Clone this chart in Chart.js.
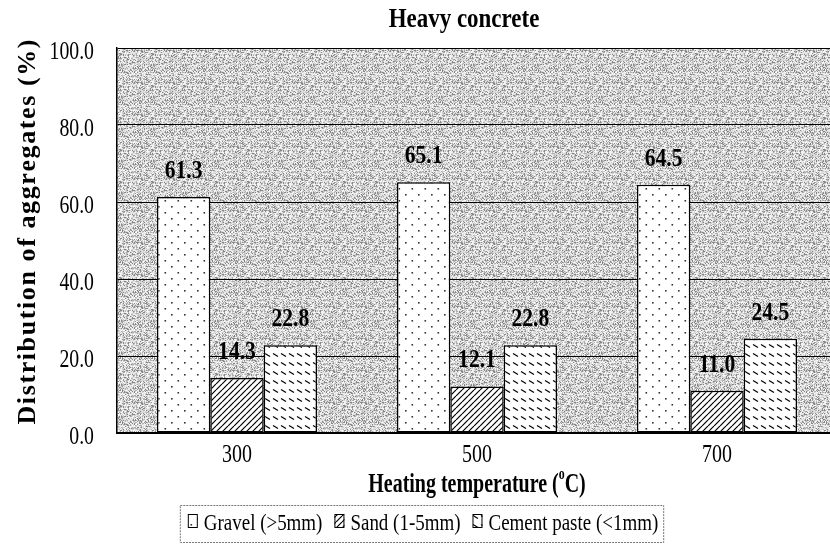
<!DOCTYPE html>
<html>
<head>
<meta charset="utf-8">
<script src="https://cdn.jsdelivr.net/npm/chart.js@4"></script>
<style>
    html, body { margin: 0; padding: 0; background: #fff; overflow: hidden; }
    #wrap { width: 837px; height: 547px; position: relative; }
</style>
</head>
<body>
<div id="wrap"><canvas id="chart"></canvas></div>
<script>
const categories = ['300', '500', '700'];
const seriesNames = ['Gravel (>5mm)', 'Sand (1-5mm)', 'Cement paste (<1mm)'];
const gravel = [61.3, 65.1, 64.5];
const sand = [14.3, 12.1, 11.0];
const cement = [22.8, 22.8, 24.5];
const yTicks = [0, 20, 40, 60, 80, 100];
const chartTitle = 'Heavy concrete';
const yTitle = 'Distribution of aggregates (%)';

const SERIF = "'Liberation Serif', 'Times New Roman', serif";

document.addEventListener('DOMContentLoaded', function() {
    const canvas = document.getElementById('chart');
    const ctx = canvas.getContext('2d');

    // small tile helpers for the hatch fills
    function tile(w, h, bg, draw) {
        const c = document.createElement('canvas');
        c.width = w; c.height = h;
        const g = c.getContext('2d');
        if (bg) { g.fillStyle = bg; g.fillRect(0, 0, w, h); }
        draw(g, w, h);
        return ctx.createPattern(c, 'repeat');
    }

    const gravelFill = tile(13, 12, '#fff', g => {
        g.fillStyle = '#333';
        g.fillRect(2, 2, 1.6, 1.6);
        g.fillRect(8.5, 8, 1.6, 1.6);
    });
    const sandFill = tile(6, 6, '#fff', (g, w, h) => {
        g.strokeStyle = '#000';
        g.lineWidth = 1.2;
        [-w, 0, w].forEach(k => {
            g.beginPath(); g.moveTo(k, h); g.lineTo(k + w, 0); g.stroke();
        });
    });
    const cementFill = tile(8, 9, '#fff', g => {
        g.strokeStyle = '#000';
        g.lineWidth = 1.2;
        g.beginPath(); g.moveTo(1, 2.5); g.lineTo(6, 5.5); g.stroke();
    });

    // grey stipple behind the plot (fixed hash, just a texture)
    const stipple = (function() {
        const c = document.createElement('canvas');
        c.width = 32; c.height = 32;
        const g = c.getContext('2d');
        const img = g.createImageData(32, 32);
        const shades = [250, 228, 205, 175, 135, 238, 215];
        for (let y = 0; y < 32; y++) {
            for (let x = 0; x < 32; x++) {
                const h = (Math.imul(x + 7, 73856093) ^ Math.imul(y + 3, 19349663)) >>> 0;
                const v = shades[(h >>> 5) % shades.length];
                const i = (y * 32 + x) * 4;
                img.data[i] = img.data[i + 1] = img.data[i + 2] = v;
                img.data[i + 3] = 255;
            }
        }
        g.putImageData(img, 0, 0);
        return ctx.createPattern(c, 'repeat');
    })();

    const fills = [gravelFill, sandFill, cementFill];
    const seriesData = [gravel, sand, cement];

    function squeezed(text, x, y, font, sx, align, baseline) {
        ctx.save();
        ctx.font = font;
        ctx.textAlign = align || 'center';
        ctx.textBaseline = baseline || 'alphabetic';
        ctx.fillStyle = '#000';
        ctx.translate(x, y);
        ctx.scale(sx, 1);
        ctx.fillText(text, 0, 0);
        ctx.restore();
    }

    const decor = {
        id: 'decor',
        beforeDraw(chart) {
            const c = chart.ctx, a = chart.chartArea;
            c.save();
            c.fillStyle = '#fff';
            c.fillRect(0, 0, chart.width, chart.height);
            c.fillStyle = stipple;
            c.fillRect(a.left, a.top, a.right - a.left, a.bottom - a.top);
            c.restore();
        },
        afterDatasetsDraw(chart) {
            // value labels above the bars
            chart.data.datasets.forEach((ds, i) => {
                chart.getDatasetMeta(i).data.forEach((bar, j) => {
                    squeezed(ds.data[j].toFixed(1), bar.x, bar.y - 19,
                        'bold 26px ' + SERIF, 0.83);
                });
            });
        },
        afterDraw(chart) {
            const c = chart.ctx;
            const xs = chart.scales.x, ys = chart.scales.y;

            // y tick labels
            ys.ticks.forEach(t => {
                squeezed(t.value.toFixed(1), 94, ys.getPixelForValue(t.value) + 4,
                    '26px ' + SERIF, 0.76, 'right', 'middle');
            });
            // x tick labels
            categories.forEach((lab, i) => {
                squeezed(lab, xs.getPixelForTick(i), 462, '25px ' + SERIF, 0.8);
            });

            // title
            squeezed(chartTitle, 464, 27, 'bold 28px ' + SERIF, 0.82);

            // x title with superscript o
            const sx = 0.74;
            const big = 'bold 27px ' + SERIF, small = 'bold 16px ' + SERIF;
            c.save();
            c.font = big;
            const w1 = c.measureText('Heating temperature (').width * sx;
            const w3 = c.measureText('C)').width * sx;
            c.font = small;
            const w2 = c.measureText('o').width * sx;
            c.restore();
            let x0 = 477 - (w1 + w2 + w3) / 2;
            squeezed('Heating temperature (', x0, 492, big, sx, 'left');
            squeezed('o', x0 + w1, 479, small, sx, 'left');
            squeezed('C)', x0 + w1 + w2, 492, big, sx, 'left');

            // y title, letter spaced, rotated
            c.save();
            c.font = 'bold 26px ' + SERIF;
            c.fillStyle = '#000';
            const chars = yTitle.split('');
            const widths = chars.map(ch => c.measureText(ch).width);
            const sum = widths.reduce((p, q) => p + q, 0);
            const gap = (385 - sum) / (chars.length - 1);
            c.translate(35, 232);
            c.rotate(-Math.PI / 2);
            c.textBaseline = 'alphabetic';
            c.textAlign = 'left';
            let p = -385 / 2;
            chars.forEach((ch, i) => { c.fillText(ch, p, 0); p += widths[i] + gap; });
            c.restore();

            // legend
            const lf = '24px ' + SERIF, lsx = 0.79;
            c.save();
            c.font = lf;
            const items = seriesNames.map(n => c.measureText(n).width * lsx);
            c.restore();
            const box = 10, pad = 6, between = 12;
            const total = items.reduce((p, q) => p + q + box + pad, 0) + between * (items.length - 1);
            let lx = 423 - total / 2;
            c.save();
            c.strokeStyle = '#777';
            c.lineWidth = 1;
            c.setLineDash([2, 1]);
            c.strokeRect(lx - 7.5, 505.5, total + 13, 37);
            c.restore();
            seriesNames.forEach((n, i) => {
                c.save();
                c.fillStyle = fills[i];
                c.fillRect(lx, 514, box, 13);
                c.strokeStyle = '#000';
                c.lineWidth = 1;
                c.strokeRect(lx + 0.5, 514.5, box - 1, 13);
                c.restore();
                squeezed(n, lx + box + pad, 530, lf, lsx, 'left');
                lx += box + pad + items[i] + between;
            });
        }
    };

    new Chart(canvas, {
        type: 'bar',
        data: {
            labels: categories,
            datasets: seriesNames.map((name, i) => ({
                label: name,
                data: seriesData[i],
                backgroundColor: fills[i],
                borderColor: '#000',
                borderWidth: 1.5,
                borderSkipped: false,
                categoryPercentage: 0.667,
                barPercentage: 1.0
            }))
        },
        options: {
            responsive: true,
            maintainAspectRatio: false,
            animation: false,
            layout: { padding: { top: 48, left: 0, right: 0, bottom: 0 } },
            plugins: {
                legend: { display: false },
                title: { display: false },
                tooltip: { enabled: false }
            },
            scales: {
                x: {
                    grid: { display: false },
                    border: { display: true, color: '#000', width: 2 },
                    ticks: { display: false },
                    afterFit: s => { s.height = 114; }
                },
                y: {
                    min: 0,
                    max: 100,
                    afterBuildTicks: s => { s.ticks = yTicks.map(v => ({ value: v })); },
                    ticks: { display: false },
                    grid: { color: '#000', lineWidth: 1, drawTicks: false },
                    border: { display: true, color: '#000', width: 1.5 },
                    afterFit: s => { s.width = 117; }
                }
            }
        },
        plugins: [decor]
    });
});
</script>
</body>
</html>
